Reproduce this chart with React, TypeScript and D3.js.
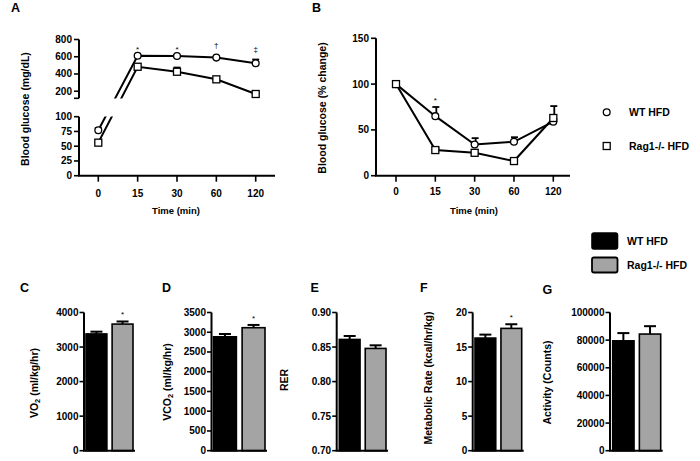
import React from "react";
import * as d3 from "d3";

// ---------- data ----------
const timeLabels = ["0", "15", "30", "60", "120"];
const wtGlucose = [77, 612, 608, 590, 524];
const wtGlucoseErr = [4, 8, 8, 8, 45];
const ragGlucose = [56, 484, 426, 338, 168];
const ragGlucoseErr = [3, 8, 50, 8, 8];
const glucoseSig = ["", "*", "*", "†", "‡"];
const upperTicks = [200, 400, 600, 800];
const lowerTicks = [0, 25, 50, 75, 100];

const wtPct = [100, 65, 34, 37, 59];
const wtPctErr = [0, 10, 7, 5, 3];
const ragPct = [100, 28, 25, 16, 63];
const ragPctErr = [0, 2, 3, 2, 13];
const pctSig = ["", "*", "", "", ""];
const pctTicks = [0, 50, 100, 150];

const groups = ["WT HFD", "Rag1-/- HFD"];
const vo2 = [3380, 3665];
const vo2Err = [65, 75];
const vo2Ticks = [0, 1000, 2000, 3000, 4000];
const vco2 = [2885, 3115];
const vco2Err = [70, 70];
const vco2Ticks = [0, 500, 1000, 1500, 2000, 2500, 3000, 3500];
const rer = [0.861, 0.848];
const rerErr = [0.005, 0.0045];
const rerTicks = [0.7, 0.75, 0.8, 0.85, 0.9];
const metab = [16.3, 17.7];
const metabErr = [0.5, 0.6];
const metabTicks = [0, 5, 10, 15, 20];
const activity = [79500, 84400];
const activityErr = [5600, 5700];
const activityTicks = [0, 20000, 40000, 60000, 80000, 100000];
const barSig = {
  vo2: ["", "*"],
  vco2: ["", "*"],
  rer: ["", ""],
  metab: ["", "*"],
  activity: ["", ""],
};

const FONT = "'Liberation Sans', Arial, Helvetica, sans-serif";
const GRAY = "#a4a4a4";

function Circle({ x, y }: { x: number; y: number }) {
  return <circle cx={x} cy={y} r={3.4} fill="#fff" stroke="#000" strokeWidth={1.3} />;
}
function Square({ x, y }: { x: number; y: number }) {
  return <rect x={x - 3.5} y={y - 3.5} width={7} height={7} fill="#fff" stroke="#000" strokeWidth={1.3} />;
}

function PanelA() {
  const x = d3.scalePoint<string>().domain(timeLabels).range([98.3, 255.7]);
  const yUp = d3.scaleLinear().domain([118, 800]).range([98.3, 39.5]);
  const yLo = d3.scaleLinear().domain([0, 100]).range([175.7, 116.7]);
  const yc = (v: number) => (v <= 100 ? yLo(v) : yUp(v));
  const axX = 79;
  const line = d3
    .line<number>()
    .x((_, i) => x(timeLabels[i]) as number)
    .y((v) => yc(v));
  const series = [
    { vals: wtGlucose, errs: wtGlucoseErr, M: Circle },
    { vals: ragGlucose, errs: ragGlucoseErr, M: Square },
  ];
  return (
    <g>
      <defs>
        <clipPath id="clipUp">
          <rect x={0} y={0} width={300} height={98.4} />
        </clipPath>
        <clipPath id="clipLo">
          <rect x={0} y={116.6} width={300} height={80} />
        </clipPath>
      </defs>
      <text x={11} y={12} fontSize={12.5} fontWeight="bold">A</text>
      {/* axes */}
      <line x1={axX} x2={axX} y1={yUp(800)} y2={yUp(118)} stroke="#000" strokeWidth={2} />
      <line x1={axX - 5} x2={axX} y1={yUp(118)} y2={yUp(118)} stroke="#000" strokeWidth={1.6} />
      {upperTicks.map((t) => (
        <g key={"u" + t}>
          <line x1={axX - 5} x2={axX} y1={yUp(t)} y2={yUp(t)} stroke="#000" strokeWidth={1.6} />
          <text x={axX - 7} y={yUp(t)} dy="0.35em" textAnchor="end" fontSize={10} fontWeight="bold">{t}</text>
        </g>
      ))}
      <line x1={axX} x2={axX} y1={yLo(100)} y2={yLo(0)} stroke="#000" strokeWidth={2} />
      {lowerTicks.map((t) => (
        <g key={"l" + t}>
          <line x1={axX - 5} x2={axX} y1={yLo(t)} y2={yLo(t)} stroke="#000" strokeWidth={1.6} />
          <text x={axX - 7} y={yLo(t)} dy="0.35em" textAnchor="end" fontSize={10} fontWeight="bold">{t}</text>
        </g>
      ))}
      <line x1={axX - 1} x2={275} y1={175.7} y2={175.7} stroke="#000" strokeWidth={2} />
      {timeLabels.map((t) => (
        <g key={"x" + t}>
          <line x1={x(t)} x2={x(t)} y1={175.7} y2={181.7} stroke="#000" strokeWidth={1.6} />
          <text x={x(t)} y={196.5} textAnchor="middle" fontSize={10} fontWeight="bold">{t}</text>
        </g>
      ))}
      <text x={176} y={214} textAnchor="middle" fontSize={9.5} fontWeight="bold">Time (min)</text>
      <text transform="translate(25,109) rotate(-90)" textAnchor="middle" dominantBaseline="central" fontSize={10.5} fontWeight="bold">
        Blood glucose (mg/dL)
      </text>
      {/* lines */}
      {series.map((s, k) => (
        <g key={"s" + k}>
          <path d={line(s.vals) as string} fill="none" stroke="#000" strokeWidth={2} clipPath="url(#clipUp)" />
          <path d={line(s.vals) as string} fill="none" stroke="#000" strokeWidth={2} clipPath="url(#clipLo)" />
        </g>
      ))}
      {series.map((s, k) =>
        s.vals.map((v, i) => {
          const cx = x(timeLabels[i]) as number;
          const top = yc(v + s.errs[i]);
          return (
            <g key={"e" + k + i}>
              <line x1={cx} x2={cx} y1={yc(v)} y2={top} stroke="#000" strokeWidth={1.6} />
              <line x1={cx - 3.5} x2={cx + 3.5} y1={top} y2={top} stroke="#000" strokeWidth={1.6} />
            </g>
          );
        })
      )}
      {series.map((s, k) =>
        s.vals.map((v, i) => <s.M key={"m" + k + i} x={x(timeLabels[i]) as number} y={yc(v)} />)
      )}
      {glucoseSig.map((g, i) =>
        g ? (
          <text key={"g" + i} x={x(timeLabels[i])} y={i === 3 ? 48 : 52} textAnchor="middle" fontSize={8}>{g}</text>
        ) : null
      )}
    </g>
  );
}

function PanelB() {
  const x = d3.scalePoint<string>().domain(timeLabels).range([396, 553.3]);
  const y = d3.scaleLinear().domain([0, 150]).range([175.7, 38.3]);
  const axX = 376;
  const line = d3
    .line<number>()
    .x((_, i) => x(timeLabels[i]) as number)
    .y((v) => y(v));
  const series = [
    { vals: wtPct, errs: wtPctErr, M: Circle },
    { vals: ragPct, errs: ragPctErr, M: Square },
  ];
  return (
    <g>
      <text x={312} y={12} fontSize={12.5} fontWeight="bold">B</text>
      <line x1={axX} x2={axX} y1={y(150)} y2={y(0)} stroke="#000" strokeWidth={2} />
      {pctTicks.map((t) => (
        <g key={"t" + t}>
          <line x1={axX - 5} x2={axX} y1={y(t)} y2={y(t)} stroke="#000" strokeWidth={1.6} />
          <text x={axX - 7} y={y(t)} dy="0.35em" textAnchor="end" fontSize={10} fontWeight="bold">{t}</text>
        </g>
      ))}
      <line x1={axX - 1} x2={570} y1={175.7} y2={175.7} stroke="#000" strokeWidth={2} />
      {timeLabels.map((t) => (
        <g key={"x" + t}>
          <line x1={x(t)} x2={x(t)} y1={175.7} y2={181.7} stroke="#000" strokeWidth={1.6} />
          <text x={x(t)} y={195} textAnchor="middle" fontSize={10} fontWeight="bold">{t}</text>
        </g>
      ))}
      <text x={474} y={214} textAnchor="middle" fontSize={9.5} fontWeight="bold">Time (min)</text>
      <text transform="translate(321.7,108) rotate(-90)" textAnchor="middle" dominantBaseline="central" fontSize={10.5} fontWeight="bold">
        Blood glucose (% change)
      </text>
      {series.map((s, k) => (
        <path key={"p" + k} d={line(s.vals) as string} fill="none" stroke="#000" strokeWidth={2} />
      ))}
      {series.map((s, k) =>
        s.vals.map((v, i) => {
          const cx = x(timeLabels[i]) as number;
          const top = y(v + s.errs[i]);
          return (
            <g key={"e" + k + i}>
              <line x1={cx + 1} x2={cx + 1} y1={y(v)} y2={top} stroke="#000" strokeWidth={1.8} />
              <line x1={cx - 3} x2={cx + 4} y1={top} y2={top} stroke="#000" strokeWidth={1.8} />
            </g>
          );
        })
      )}
      {series.map((s, k) =>
        s.vals.map((v, i) => <s.M key={"m" + k + i} x={x(timeLabels[i]) as number} y={y(v)} />)
      )}
      {pctSig.map((g, i) =>
        g ? (
          <text key={"g" + i} x={x(timeLabels[i])} y={103} textAnchor="middle" fontSize={8}>{g}</text>
        ) : null
      )}
      {/* legend */}
      <Circle x={606.7} y={112.3} />
      <text x={629} y={112.3} dy="0.35em" fontSize={10.5} fontWeight="bold">WT HFD</text>
      <Square x={606.7} y={146} />
      <text x={629} y={146} dy="0.35em" fontSize={10.5} fontWeight="bold">Rag1-/- HFD</text>
    </g>
  );
}

type BarProps = {
  letter: string;
  letterX: number;
  letterY?: number;
  axisX: number;
  barRange: [number, number];
  domain: [number, number];
  ticks: number[];
  fmt: (v: number) => string;
  values: number[];
  errs: number[];
  sig: string[];
  label: React.ReactNode;
  labelX: number;
  labelY: number;
};

function BarPanel(p: BarProps) {
  const y0 = 450.7;
  const y = d3.scaleLinear().domain(p.domain).range([y0, 312.5]);
  const xb = d3.scaleBand<string>().domain(groups).range(p.barRange).paddingInner(0.2);
  const bw = xb.bandwidth();
  return (
    <g>
      <text x={p.letterX} y={p.letterY ?? 291.7} fontSize={12.5} fontWeight="bold">{p.letter}</text>
      {groups.map((g, i) => {
        const bx = xb(g) as number;
        const cx = bx + bw / 2;
        const top = y(p.values[i] + p.errs[i]);
        return (
          <g key={g}>
            <line x1={cx} x2={cx} y1={y(p.values[i])} y2={top} stroke="#000" strokeWidth={2} />
            <line x1={cx - 6} x2={cx + 6} y1={top} y2={top} stroke="#000" strokeWidth={2} />
            <rect x={bx} y={y(p.values[i])} width={bw} height={y0 - y(p.values[i])} fill={i === 0 ? "#000" : GRAY} stroke="#000" strokeWidth={1.6} />
            {p.sig[i] ? (
              <text x={cx} y={top - 4} textAnchor="middle" fontSize={8}>{p.sig[i]}</text>
            ) : null}
          </g>
        );
      })}
      <line x1={p.axisX} x2={p.axisX} y1={312.5} y2={y0} stroke="#000" strokeWidth={2} />
      {p.ticks.map((t) => (
        <g key={t}>
          <line x1={p.axisX - 4.5} x2={p.axisX} y1={y(t)} y2={y(t)} stroke="#000" strokeWidth={1.6} />
          <text x={p.axisX - 5.5} y={y(t)} dy="0.35em" textAnchor="end" fontSize={10} fontWeight="bold">{p.fmt(t)}</text>
        </g>
      ))}
      <line x1={p.axisX - 1} x2={p.barRange[1] + 2} y1={y0} y2={y0} stroke="#000" strokeWidth={2} />
      <text transform={`translate(${p.labelX},${p.labelY}) rotate(-90)`} textAnchor="middle" dominantBaseline="central" fontSize={10.5} fontWeight="bold">
        {p.label}
      </text>
    </g>
  );
}

export default function App() {
  const intFmt = (v: number) => String(v);
  const rerFmt = d3.format(".2f");
  return (
    <svg width={700} height={461} style={{ position: "absolute", left: 0, top: 0, background: "#fff" }} fontFamily={FONT}>
      <rect width={700} height={461} fill="#fff" />
      <PanelA />
      <PanelB />
      <BarPanel
        letter="C" letterX={20} axisX={84} barRange={[86, 133]} domain={[0, 4000]} ticks={vo2Ticks} fmt={intFmt}
        values={vo2} errs={vo2Err} sig={barSig.vo2}
        label={<><tspan>VO</tspan><tspan dy={3} fontSize={7.5}>2</tspan><tspan dy={-3}> (ml/kg/hr)</tspan></>}
        labelX={33.5} labelY={383}
      />
      <BarPanel
        letter="D" letterX={162} axisX={211.5} barRange={[213.5, 265]} domain={[0, 3500]} ticks={vco2Ticks} fmt={intFmt}
        values={vco2} errs={vco2Err} sig={barSig.vco2}
        label={<><tspan>VCO</tspan><tspan dy={3} fontSize={7.5}>2</tspan><tspan dy={-3}> (ml/kg/hr)</tspan></>}
        labelX={166.5} labelY={382}
      />
      <BarPanel
        letter="E" letterX={310.5} axisX={336.7} barRange={[339.3, 386]} domain={[0.7, 0.9]} ticks={rerTicks} fmt={rerFmt}
        values={rer} errs={rerErr} sig={barSig.rer}
        label="RER" labelX={284} labelY={380}
      />
      <BarPanel
        letter="F" letterX={420} axisX={472.7} barRange={[475, 521.7]} domain={[0, 20]} ticks={metabTicks} fmt={intFmt}
        values={metab} errs={metabErr} sig={barSig.metab}
        label="Metabolic Rate (kcal/hr/kg)" labelX={428} labelY={378}
      />
      <BarPanel
        letter="G" letterX={542.5} letterY={293.5} axisX={610} barRange={[612.7, 660.7]} domain={[0, 100000]} ticks={activityTicks} fmt={intFmt}
        values={activity} errs={activityErr} sig={barSig.activity}
        label="Activity (Counts)" labelX={547} labelY={382.5}
      />
      {/* bar legend */}
      <rect x={592} y={233} width={25.5} height={16} rx={2} fill="#000" stroke="#000" strokeWidth={1.6} />
      <text x={627} y={241.5} dy="0.35em" fontSize={10.5} fontWeight="bold">WT HFD</text>
      <rect x={592} y={257.5} width={25.5} height={15} rx={2} fill={GRAY} stroke="#000" strokeWidth={1.8} />
      <text x={627} y={265} dy="0.35em" fontSize={10.5} fontWeight="bold">Rag1-/- HFD</text>
    </svg>
  );
}
